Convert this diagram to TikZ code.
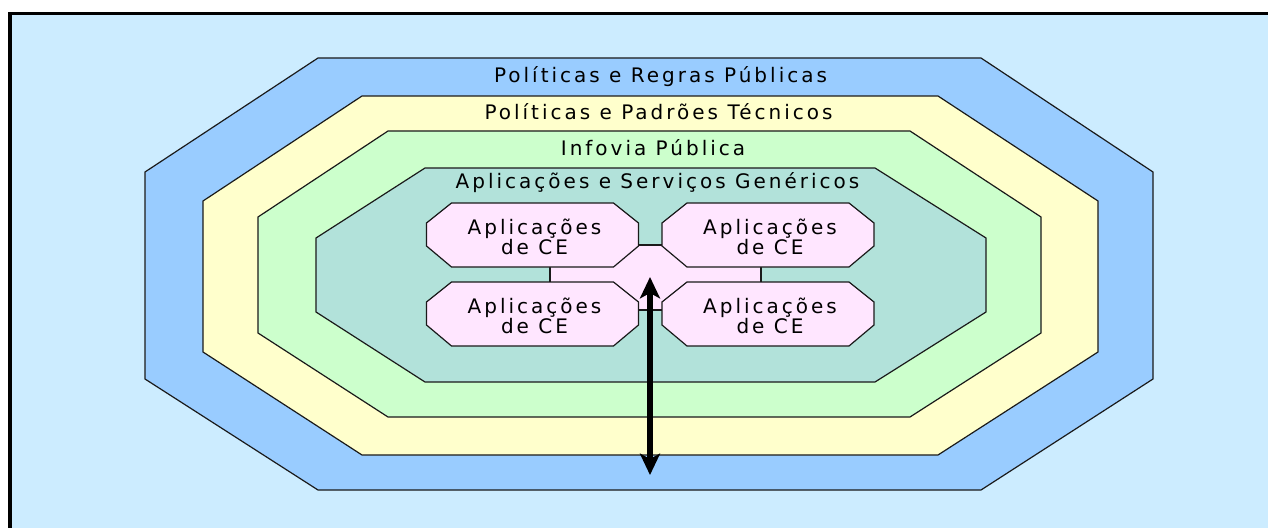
\documentclass[tikz,border=0pt]{standalone}
\usepackage{fontspec}
\usetikzlibrary{arrows.meta}
\newfontfamily\lblfont[LetterSpace=15]{DejaVu Sans}
\definecolor{skybg}{HTML}{CCECFF}
\definecolor{ringblue}{HTML}{99CCFF}
\definecolor{ringyellow}{HTML}{FFFFCC}
\definecolor{ringgreen}{HTML}{CCFFCC}
\definecolor{ringteal}{HTML}{B2E2DA}
\definecolor{appfill}{HTML}{FFE6FF}
\definecolor{edge}{HTML}{1A1A1A}

% one "Aplicações de CE" octagon: node name, centre x, centre y
\newcommand\ceoct[3]{%
  \filldraw[appbox] (#2-106,#3-12) -- (#2-81,#3-32) -- (#2+81,#3-32) -- (#2+106,#3-12)
    -- (#2+106,#3+11) -- (#2+81,#3+32) -- (#2-81,#3+32) -- (#2-106,#3+11) -- cycle;
  \node[lbl,align=center] (#1) at (#2+2,#3+2) {Aplicações\\de CE};%
}

\begin{document}
\begin{tikzpicture}[x=0.75pt,y=-0.75pt,
  ring/.style={draw=edge,line width=0.9pt,line join=miter},
  appbox/.style={fill=appfill,draw=edge,line width=0.9pt,line join=miter},
  lbl/.style={font=\lblfont\fontsize{15}{14.25}\selectfont,inner sep=0pt,text=black},
  twoway/.style={line width=3.8pt,{Stealth[length=16pt,width=15pt,inset=4pt]}-{Stealth[length=16pt,width=15pt,inset=4pt]}}]
  \useasboundingbox (0,0) rectangle (1268,528);
  \fill[white] (0,0) rectangle (1268,528);

  % panel with its frame
  \fill[skybg] (10,13.5) rectangle (1268,528);
  \draw[line width=2.7pt,line join=miter] (10,528) -- (10,13.5) -- (1268,13.5);

  % nested layers
  \filldraw[ring,fill=ringblue] (318,58) -- (981,58) -- (1153,172) -- (1153,379)
    -- (981,490) -- (318,490) -- (145,379) -- (145,172) -- cycle;
  \filldraw[ring,fill=ringyellow] (362,96) -- (938,96) -- (1098,201) -- (1098,352)
    -- (938,455) -- (362,455) -- (203,352) -- (203,201) -- cycle;
  \filldraw[ring,fill=ringgreen] (388,131) -- (910,131) -- (1041,217) -- (1041,333)
    -- (910,417) -- (388,417) -- (258,333) -- (258,217) -- cycle;
  \filldraw[ring,fill=ringteal] (425,168) -- (875,168) -- (986,238) -- (986,312)
    -- (875,382) -- (425,382) -- (316,312) -- (316,238) -- cycle;

  \node[lbl] (l1) at (660.5,77) {Políticas e Regras Públicas};
  \node[lbl] (l2) at (658.5,112) {Políticas e Padrões Técnicos};
  \node[lbl] (l3) at (653,148) {Infovia Pública};
  \node[lbl] (l4) at (657.5,183) {Aplicações e Serviços Genéricos};

  % shared core behind the four applications
  \filldraw[appbox] (550,245) rectangle (761,310);
  \ceoct{tl}{532.5}{235}
  \ceoct{tr}{768}{235}
  \ceoct{bl}{532.5}{314}
  \ceoct{br}{768}{314}

  % link from the core out to the outer layer
  \coordinate (atop) at (650,277);
  \coordinate (abot) at (650,475);
  \draw[twoway] (atop) -- (abot);
\end{tikzpicture}
\end{document}
